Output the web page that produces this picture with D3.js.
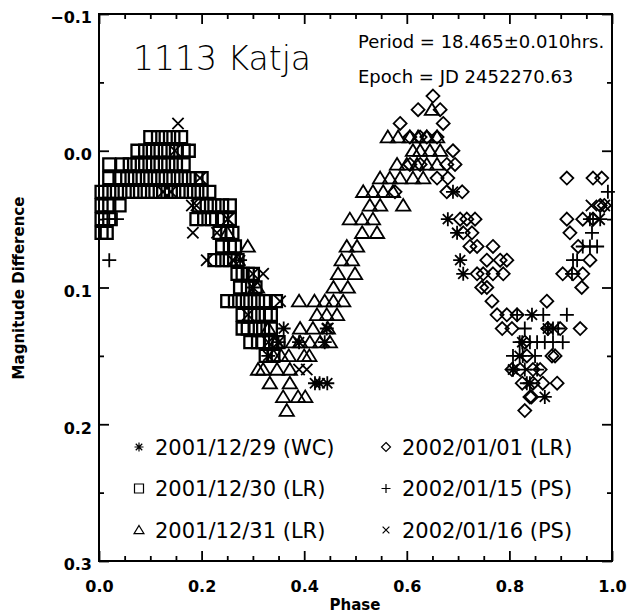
<!DOCTYPE html>
<html>
<head>
<meta charset="utf-8">
<script src="https://cdn.jsdelivr.net/npm/d3@7"></script>
<style>
  body { margin: 0; background: #fff; }
  text { font-family: "DejaVu Sans", sans-serif; fill: #000; }
  .thin { font-weight: 200; }
  .tick text { font-weight: bold; font-size: 16px; }
</style>
</head>
<body>
<script>
// Light curve of 1113 Katja, magnitudes come in 0.01 steps

// 2001/12/29 (WC)
let wc1229 = [[0.69,0.03],[0.68,0.05],[0.698,0.06],[0.704,0.08],[0.71,0.09],[0.844,0.12],[0.875,0.13],
  [0.825,0.14],[0.82,0.15],[0.807,0.16],[0.84,0.17],[0.869,0.18],[0.421,0.17],[0.444,0.13],[0.44,0.14],
  [0.36,0.13],[0.39,0.14],[0.275,0.08],[0.30,0.10],[0.33,0.15],[0.35,0.14],[0.43,0.17],[0.445,0.17]];

// 2001/12/30 (LR)
let lr1230 = [
  [0.10,-0.01],[0.115,-0.01],[0.13,-0.01],[0.145,-0.01],[0.16,-0.01],
  [0.075,0],[0.09,0],[0.105,0],[0.12,0],[0.135,0],[0.15,0],[0.165,0],[0.175,0],
  [0.02,0.01],[0.045,0.01],[0.06,0.01],[0.075,0.01],[0.09,0.01],[0.105,0.01],[0.12,0.01],[0.135,0.01],[0.15,0.01],[0.165,0.01],
  [0.02,0.02],[0.04,0.02],[0.055,0.02],[0.07,0.02],[0.085,0.02],[0.10,0.02],[0.115,0.02],[0.13,0.02],[0.145,0.02],[0.16,0.02],[0.175,0.02],[0.19,0.02],[0.20,0.02],
  [0.005,0.03],[0.02,0.03],[0.035,0.03],[0.05,0.03],[0.065,0.03],[0.08,0.03],[0.095,0.03],[0.11,0.03],[0.125,0.03],[0.14,0.03],[0.155,0.03],[0.17,0.03],[0.185,0.03],[0.20,0.03],[0.215,0.03],
  [0.005,0.04],[0.02,0.04],[0.04,0.04],[0.195,0.04],[0.21,0.04],[0.225,0.04],[0.24,0.04],[0.255,0.04],
  [0.005,0.05],[0.02,0.05],[0.19,0.05],[0.205,0.05],[0.22,0.05],[0.24,0.05],[0.255,0.05],
  [0.005,0.06],[0.015,0.06],[0.235,0.06],[0.25,0.06],[0.26,0.06],
  [0.24,0.07],[0.255,0.07],[0.265,0.07],
  [0.225,0.08],[0.24,0.08],[0.255,0.08],[0.27,0.08],
  [0.27,0.09],[0.28,0.09],[0.29,0.09],[0.30,0.09],
  [0.275,0.10],[0.29,0.10],[0.305,0.10],
  [0.25,0.11],[0.265,0.11],[0.28,0.11],[0.295,0.11],[0.31,0.11],[0.325,0.11],[0.345,0.11],
  [0.28,0.12],[0.295,0.12],[0.31,0.12],[0.325,0.12],[0.335,0.12],
  [0.28,0.13],[0.29,0.13],[0.305,0.13],[0.32,0.13],[0.335,0.13],
  [0.295,0.14],[0.31,0.14],[0.32,0.14],[0.335,0.14],[0.35,0.14],
  [0.325,0.15],[0.34,0.15]];

// 2001/12/31 (LR)
let lr1231 = [[0.25,0.06],[0.29,0.07],[0.27,0.08],[0.308,0.10],[0.39,0.11],[0.42,0.11],[0.44,0.11],
  [0.457,0.11],[0.476,0.11],[0.425,0.12],[0.444,0.12],[0.464,0.12],[0.392,0.13],[0.417,0.13],[0.446,0.13],
  [0.378,0.14],[0.392,0.14],[0.411,0.14],[0.431,0.14],[0.45,0.14],[0.37,0.15],[0.40,0.15],[0.41,0.15],
  [0.32,0.16],[0.347,0.16],[0.372,0.16],[0.333,0.17],[0.372,0.17],[0.359,0.18],[0.388,0.18],[0.402,0.18],
  [0.366,0.19],[0.33,0.13],[0.345,0.14],[0.355,0.15],[0.34,0.15],[0.31,0.16],
  [0.457,0.10],[0.485,0.10],[0.466,0.09],[0.499,0.09],[0.473,0.08],[0.493,0.08],[0.483,0.07],[0.503,0.07],
  [0.513,0.06],[0.542,0.06],[0.489,0.05],[0.513,0.05],[0.534,0.05],[0.528,0.04],[0.548,0.04],[0.593,0.04],
  [0.515,0.03],[0.534,0.03],[0.554,0.03],[0.573,0.03],[0.548,0.02],[0.567,0.02],[0.587,0.02],[0.612,0.02],
  [0.632,0.02],[0.581,0.01],[0.60,0.01],[0.62,0.01],[0.639,0.01],[0.659,0.01],[0.612,0],[0.626,0],
  [0.645,0],[0.665,0],[0.563,-0.01],[0.583,-0.01],[0.606,-0.01],[0.622,-0.01],[0.639,-0.01],[0.659,-0.01],
  [0.649,-0.03]];

// 2002/01/01 (LR)
let lr0101 = [[0.651,-0.04],[0.622,-0.03],[0.665,-0.03],[0.587,-0.02],[0.671,-0.02],[0.606,-0.01],
  [0.626,-0.01],[0.639,-0.01],[0.659,-0.01],[0.69,0],[0.606,0.01],[0.626,0.01],[0.678,0.01],[0.694,0.01],
  [0.659,0.02],[0.68,0.02],[0.678,0.03],[0.708,0.03],[0.577,0.03],[0.704,0.05],[0.717,0.05],[0.733,0.05],
  [0.71,0.06],[0.727,0.06],[0.723,0.07],[0.737,0.07],[0.768,0.07],[0.756,0.08],[0.782,0.08],[0.795,0.08],
  [0.737,0.09],[0.749,0.09],[0.768,0.09],[0.788,0.09],[0.746,0.10],[0.756,0.10],[0.766,0.11],[0.776,0.12],
  [0.795,0.12],[0.815,0.12],[0.786,0.13],[0.805,0.13],[0.83,0.14],[0.834,0.15],[0.883,0.15],[0.889,0.15],
  [0.805,0.16],[0.821,0.16],[0.846,0.16],[0.86,0.16],[0.825,0.17],[0.846,0.17],[0.865,0.17],[0.893,0.17],
  [0.84,0.18],[0.843,0.18],[0.83,0.19],
  [0.912,0.02],[0.963,0.02],[0.98,0.02],[0.977,0.04],[0.985,0.04],[0.912,0.05],[0.943,0.05],[0.963,0.05],
  [0.918,0.06],[0.934,0.07],[0.957,0.08],[0.904,0.09],[0.924,0.09],[0.943,0.09],[0.941,0.10],[0.873,0.11],
  [0.875,0.13],[0.899,0.13],[0.938,0.13]];

// 2002/01/15 (PS)
let ps0115 = [[0.02,0.05],[0.035,0.05],[0.02,0.08],[0.815,0.12],[0.866,0.12],[0.912,0.12],[0.83,0.13],
  [0.875,0.13],[0.885,0.13],[0.895,0.13],[0.82,0.14],[0.84,0.14],[0.854,0.14],[0.869,0.14],[0.885,0.14],
  [0.904,0.14],[0.807,0.15],[0.826,0.15],[0.85,0.15],[0.807,0.16],[0.83,0.16],[0.854,0.16],[0.834,0.17],
  [0.992,0.03],[0.957,0.05],[0.963,0.05],[0.977,0.05],[0.961,0.06],[0.943,0.07],[0.957,0.07],[0.971,0.07],
  [0.924,0.08],[0.932,0.08],[0.922,0.09]];

// 2002/01/16 (PS)
let ps0116 = [[0.154,-0.02],[0.148,0],[0.197,0.02],[0.125,0.03],[0.181,0.04],[0.19,0.04],[0.251,0.05],
  [0.183,0.06],[0.21,0.08],[0.261,0.08],[0.30,0.09],[0.32,0.09],[0.353,0.11],[0.405,0.16],[0.39,0.16],
  [0.446,0.13],[0.96,0.04],[0.975,0.05],[0.985,0.04],[0.14,0.03],[0.23,0.06],[0.29,0.12],[0.33,0.14]];

let legendLabels = ["2001/12/29 (WC)", "2001/12/30 (LR)", "2001/12/31 (LR)",
                    "2002/01/01 (LR)", "2002/01/15 (PS)", "2002/01/16 (PS)"];
let xTicks = [0, 0.2, 0.4, 0.6, 0.8, 1.0];
let yTicks = [-0.1, 0, 0.1, 0.2, 0.3];

// symbol paths, s is half size
let sym = {
  asterisk: s => `M0,${-s}V${s}M${-s},0H${s}M${-s*0.72},${-s*0.72}L${s*0.72},${s*0.72}M${-s*0.72},${s*0.72}L${s*0.72},${-s*0.72}`,
  square: s => `M${-s},${-s}H${s}V${s}H${-s}Z`,
  triangle: s => `M0,${-s}L${s*1.1},${s*0.8}H${-s*1.1}Z`,
  diamond: s => `M0,${-s}L${s},0L0,${s}L${-s},0Z`,
  plus: s => `M0,${-s}V${s}M${-s},0H${s}`,
  cross: s => `M${-s*0.75},${-s*0.75}L${s*0.75},${s*0.75}M${-s*0.75},${s*0.75}L${s*0.75},${-s*0.75}`
};

let series = [
  {data: wc1229, shape: "asterisk", size: 7},
  {data: lr1230, shape: "square", size: 6},
  {data: lr1231, shape: "triangle", size: 6.5},
  {data: lr0101, shape: "diamond", size: 6.5},
  {data: ps0115, shape: "plus", size: 7},
  {data: ps0116, shape: "cross", size: 7.5}
];

let svgWidth = 629, svgHeight = 616;
let plot = {left: 99, right: 612, top: 14, bottom: 561};

let svg = d3.select("body").append("svg")
  .attr("width", svgWidth)
  .attr("height", svgHeight);

let x = d3.scaleLinear().domain([0, 1]).range([plot.left, plot.right]);
let y = d3.scaleLinear().domain([-0.1, 0.3]).range([plot.top, plot.bottom]);

let fmt = d3.format(".1f");

// major ticks with labels
svg.append("g")
  .attr("transform", `translate(0,${plot.bottom})`)
  .call(d3.axisBottom(x).tickValues(xTicks).tickFormat(fmt).tickSize(-10).tickSizeOuter(0).tickPadding(20));
svg.append("g")
  .attr("transform", `translate(${plot.left},0)`)
  .call(d3.axisLeft(y).tickValues(yTicks).tickFormat(fmt).tickSize(-10).tickSizeOuter(0).tickPadding(7))
  .selectAll("text").attr("dy", "0.55em");

// mirrored ticks top/right
svg.append("g")
  .attr("transform", `translate(0,${plot.top})`)
  .call(d3.axisTop(x).tickValues(xTicks).tickFormat("").tickSize(-10).tickSizeOuter(0));
svg.append("g")
  .attr("transform", `translate(${plot.right},0)`)
  .call(d3.axisRight(y).tickValues(yTicks).tickFormat("").tickSize(-10).tickSizeOuter(0));

// minor ticks
let xMinor = d3.range(0, 1.0001, 0.05).filter((d, i) => i % 4 != 0);
let yMinor = [-0.05, 0.05, 0.15, 0.25];
svg.append("g").attr("transform", `translate(0,${plot.bottom})`)
  .call(d3.axisBottom(x).tickValues(xMinor).tickFormat("").tickSize(-5).tickSizeOuter(0));
svg.append("g").attr("transform", `translate(0,${plot.top})`)
  .call(d3.axisTop(x).tickValues(xMinor).tickFormat("").tickSize(-5).tickSizeOuter(0));
svg.append("g").attr("transform", `translate(${plot.left},0)`)
  .call(d3.axisLeft(y).tickValues(yMinor).tickFormat("").tickSize(-5).tickSizeOuter(0));
svg.append("g").attr("transform", `translate(${plot.right},0)`)
  .call(d3.axisRight(y).tickValues(yMinor).tickFormat("").tickSize(-5).tickSizeOuter(0));

svg.selectAll(".domain").remove();
svg.selectAll(".tick line").attr("stroke", "#000").attr("stroke-width", 1.8);
svg.selectAll(".tick text").attr("fill", "#000");

// frame
svg.append("rect")
  .attr("x", plot.left).attr("y", plot.top)
  .attr("width", plot.right - plot.left).attr("height", plot.bottom - plot.top)
  .attr("fill", "none").attr("stroke", "#000").attr("stroke-width", 2);

// data points
series.forEach(function(s) {
  svg.append("g").selectAll("path")
    .data(s.data)
    .enter()
    .append("path")
    .attr("transform", d => `translate(${x(d[0])},${y(d[1])})`)
    .attr("d", sym[s.shape](s.size))
    .attr("fill", "none")
    .attr("stroke", "#000")
    .attr("stroke-width", s.shape == "square" ? 2.3 : 1.8);
});

// legend
let legend = svg.append("g");
series.forEach(function(s, i) {
  let col = Math.floor(i / 3), row = i % 3;
  let lx = col == 0 ? 139 : 386;
  let ly = 447 + row * 41.5;
  legend.append("path")
    .attr("transform", `translate(${lx},${ly})`)
    .attr("d", sym[s.shape](4.5))
    .attr("fill", "none").attr("stroke", "#000").attr("stroke-width", 1.2);
  legend.append("text")
    .attr("x", lx + 16).attr("y", ly + 7.5)
    .style("font-size", "21px")
    .text(legendLabels[i]);
});

// labels
svg.append("text")
  .attr("class", "thin")
  .attr("x", 133).attr("y", 70)
  .style("font-size", "33px")
  .text("1113 Katja");
svg.append("text")
  .attr("x", 358).attr("y", 48)
  .style("font-size", "18px")
  .text("Period = 18.465\u00b10.010hrs.");
svg.append("text")
  .attr("x", 358).attr("y", 83)
  .style("font-size", "18px")
  .text("Epoch = JD 2452270.63");

svg.append("text")
  .attr("transform", `translate(24,288) rotate(-90)`)
  .attr("text-anchor", "middle")
  .style("font-size", "15px").style("font-weight", "bold")
  .text("Magnitude Difference");
svg.append("text")
  .attr("x", 355).attr("y", 610)
  .attr("text-anchor", "middle")
  .style("font-size", "15px").style("font-weight", "bold")
  .text("Phase");
</script>
</body>
</html>
